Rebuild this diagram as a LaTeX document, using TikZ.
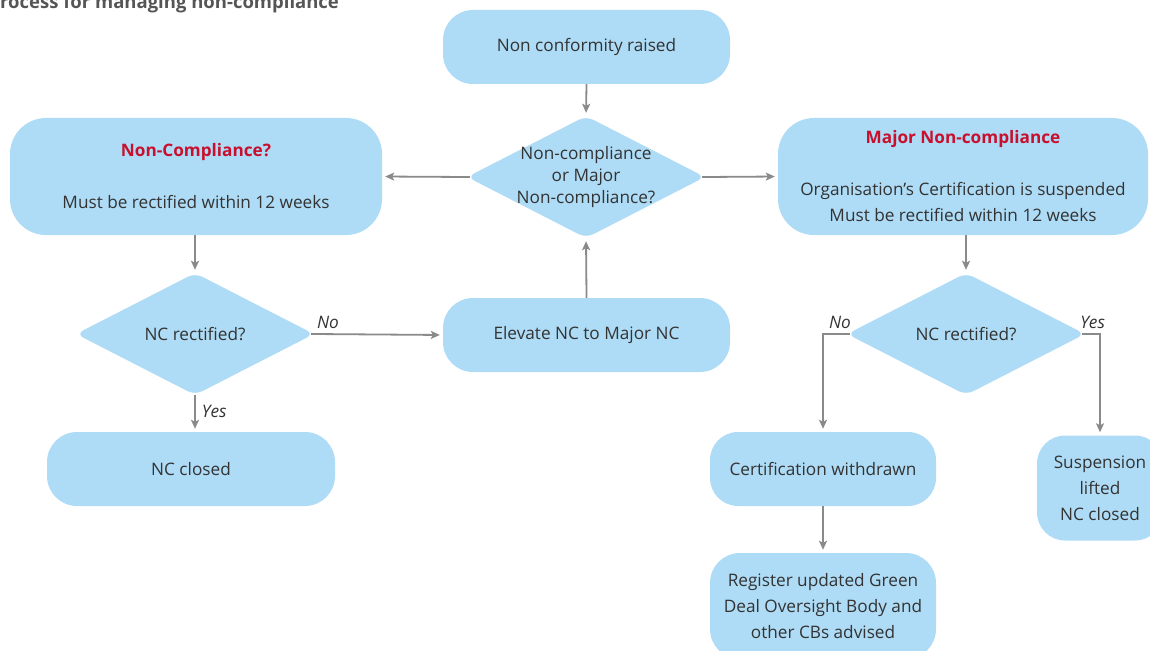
\documentclass[tikz,border=0pt]{standalone}
\usepackage{fontspec}
\setmainfont{Open Sans}
\usetikzlibrary{shapes.geometric,arrows.meta}
\definecolor{boxblue}{HTML}{AEDBF5}
\definecolor{txt}{HTML}{333333}
\definecolor{nred}{HTML}{C8102E}
\definecolor{arr}{HTML}{8A8A8A}
\definecolor{titlegray}{HTML}{555555}
\begin{document}
\begin{tikzpicture}[x=1pt,y=-1pt,
  every node/.style={font=\fontsize{17.2}{26}\selectfont, text=txt},
  proc/.style={rectangle, fill=boxblue, rounded corners=#1, inner sep=0pt, align=center},
  proc/.default=30pt,
  dec/.style={diamond, fill=boxblue, rounded corners=8pt, minimum width=238pt, minimum height=122pt, inner sep=0pt},
  conn/.style={draw=arr, line width=1.8pt, -{Stealth[length=9pt,width=8pt,inset=2pt]}, shorten >=3pt},
  lab/.style={font=\fontsize{17.2}{20}\selectfont\itshape, inner sep=2pt}
]
\useasboundingbox (0,0) rectangle (1150,650);
\clip (0,0) rectangle (1150,650);

\node[anchor=base west, inner sep=0pt, text=titlegray, font=\fontsize{18.5}{20}\selectfont\bfseries] (title) at (0,9) {rocess for managing non-compliance};

\node[proc, minimum width=287pt, minimum height=74pt] (start) at (586.5,47) {Non conformity raised};
\node[dec, label={[align=center, font=\fontsize{17.2}{22}\selectfont]center:{Non-compliance\\or Major\\Non-compliance?}}] (q) at (586,177) {};
\node[proc=36pt, minimum width=372pt, minimum height=117pt] (nc) at (196,176.5) {{\color{nred}\bfseries Non-Compliance?}\\[26pt]Must be rectified within 12 weeks};
\node[proc=36pt, minimum width=370pt, minimum height=117pt] (maj) at (963,176.5) {{\color{nred}\bfseries Major Non-compliance}\\[26pt]Organisation's Certification is suspended\\Must be rectified within 12 weeks};
\node[dec, label={center:NC rectified?}] (d1) at (195,334) {};
\node[proc, minimum width=287pt, minimum height=74pt] (elev) at (586.5,335) {Elevate NC to Major NC};
\node[dec, label={center:NC rectified?}] (d2) at (966,334) {};
\node[proc, minimum width=288pt, minimum height=74pt] (ncc) at (191,469) {NC closed};
\node[proc=28pt, minimum width=226pt, minimum height=74pt] (wd) at (823,469) {Certification withdrawn};
\node[proc=28pt, minimum width=126pt, minimum height=105pt] (sus) at (1100,488) {Suspension\\lifted\\NC closed};
\node[proc, minimum width=226pt, minimum height=106pt] (reg) at (823,606) {Register updated Green\\Deal Oversight Body and\\other CBs advised};

\draw[conn] (start.south) -- (q.north);
\draw[conn, shorten <=-3pt] (q.west) -- (nc.east);
\draw[conn, shorten <=-3pt] (q.east) -- (maj.west);
\draw[conn] (nc.south -| d1.north) -- (d1.north);
\draw[conn, shorten <=-3pt] (d1.east) -- node[lab, pos=0, anchor=south west, yshift=2pt] {No} (elev.west);
\draw[conn] (elev.north) -- (q.south);
\draw[conn] (d1.south) -- node[lab, pos=0.45, anchor=west, xshift=4pt] {Yes} (d1.south |- ncc.north);
\draw[conn] (maj.south -| d2.north) -- (d2.north);
\draw[conn, shorten <=-3pt] (d2.west) -| node[lab, pos=0.25, above, xshift=5pt, yshift=2pt] {No} (wd.north);
\draw[conn, shorten <=-3pt] (d2.east) -| node[lab, pos=0.25, above, yshift=2pt] {Yes} (sus.north);
\draw[conn] (wd.south) -- (reg.north);
\end{tikzpicture}
\end{document}
